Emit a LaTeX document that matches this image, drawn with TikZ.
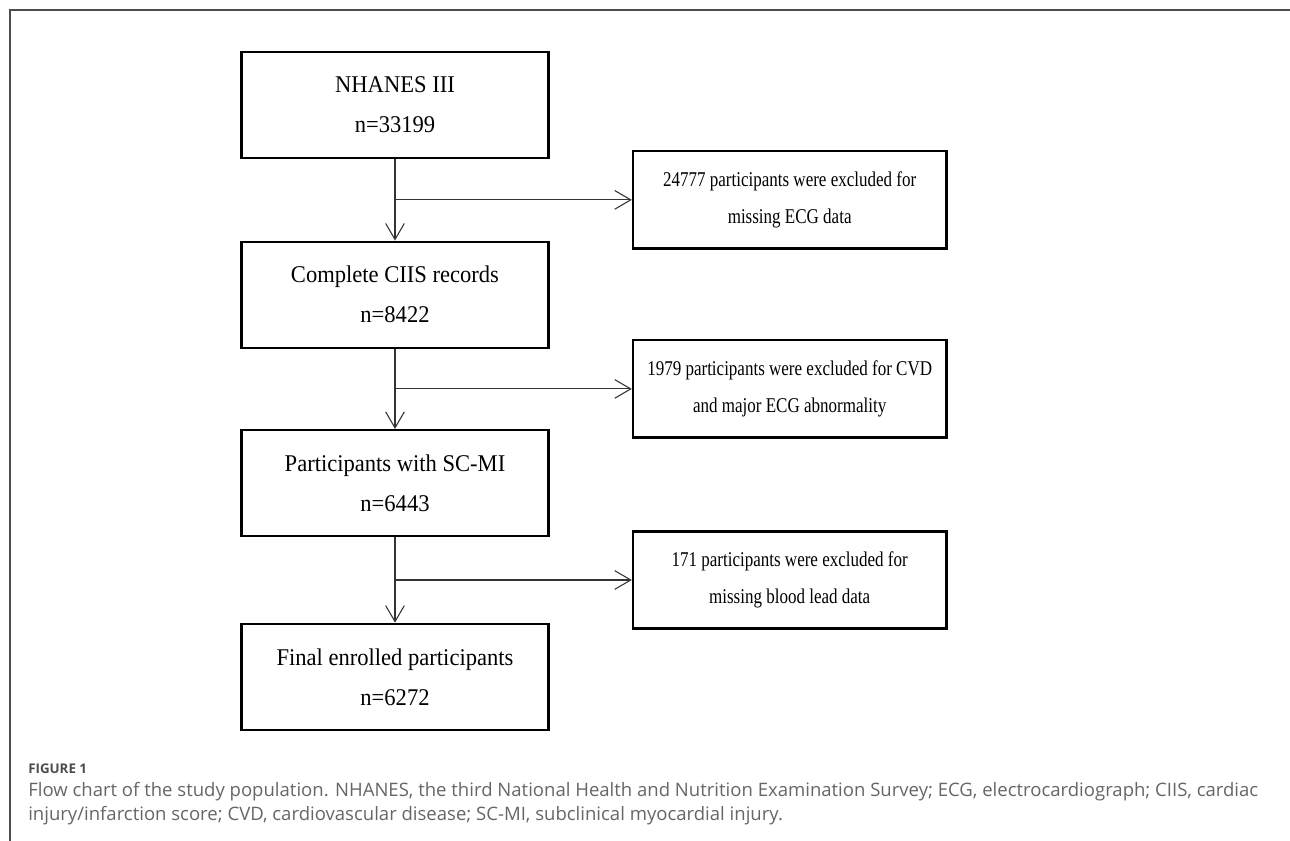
\documentclass[tikz,border=0pt]{standalone}
\usepackage{fontspec}
\setmainfont{Liberation Serif}
\newfontfamily\boxfont[FakeStretch=0.94]{Liberation Serif}
\newfontfamily\sidefont[FakeStretch=0.81]{Liberation Serif}
\newfontfamily\capfont{Open Sans}
\usetikzlibrary{arrows.meta, positioning, calc}

\begin{document}
\begin{tikzpicture}[
    x=0.75pt, y=-0.75pt,
    box/.style={rectangle, draw, line width=1.8pt, align=center, minimum width=230pt, minimum height=79.5pt, font=\boxfont\fontsize{18}{30}\selectfont},
    sidebox/.style={box, minimum width=235pt, minimum height=73pt, font=\sidefont\fontsize{15.75}{28}\selectfont},
    arrow/.style={-{Straight Barb[length=12pt, width=14pt]}, line width=0.8pt, draw=black!80}
]
\useasboundingbox (0,0) rectangle (1290,841);

% Frame
\draw[line width=1pt, black!70] (10,841) -- (10,10) -- (1290,10);

% Nodes
\node[box] (nhanes) at (395,105) {NHANES III\\n=33199};
\node[box, below=61pt of nhanes] (ciis) {Complete CIIS records\\n=8422};
\node[box, below=60pt of ciis] (scmi) {Participants with SC-MI\\n=6443};
\node[box, below=64pt of scmi] (final) {Final enrolled participants\\n=6272};

\node[sidebox, xshift=296pt] (ecg) at ($(nhanes.south)!0.5!(ciis.north)$) {24777 participants were excluded for\\missing ECG data};
\node[sidebox, xshift=296pt] (cvd) at ($(ciis.south)!0.5!(scmi.north)$) {1979 participants were excluded for CVD\\and major ECG abnormality};
\node[sidebox, xshift=296pt] (lead) at ($(scmi.south)!0.5!(final.north)$) {171 participants were excluded for\\missing blood lead data};

% Arrows
\draw[arrow] (nhanes) -- (ciis);
\draw[arrow] (ciis) -- (scmi);
\draw[arrow] (scmi) -- (final);
\draw[arrow] (nhanes.south |- ecg.west) -- (ecg);
\draw[arrow] (ciis.south |- cvd.west) -- (cvd);
\draw[arrow] (scmi.south |- lead.west) -- (lead);

% Caption
\node[anchor=base west, inner sep=0pt, text=black!70, font=\capfont\fontsize{10}{12}\selectfont\bfseries] (figlabel) at (28,773) {FIGURE 1};
\node[anchor=north west, inner sep=0pt, align=left, text=black!60, font=\capfont\fontsize{13.9}{18}\selectfont] (caption) at (28,782) {Flow chart of the study population. NHANES, the third National Health and Nutrition Examination Survey; ECG, electrocardiograph; CIIS, cardiac\\injury/infarction score; CVD, cardiovascular disease; SC-MI, subclinical myocardial injury.};

\end{tikzpicture}
\end{document}
